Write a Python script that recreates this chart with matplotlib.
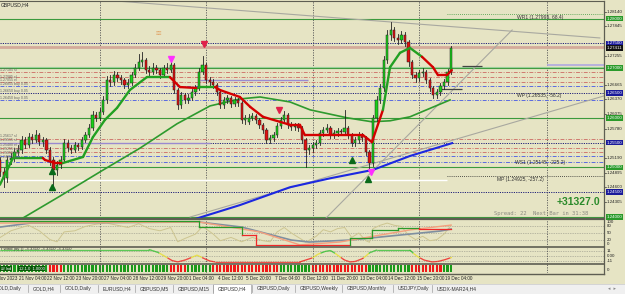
import matplotlib
matplotlib.use("Agg")
import matplotlib.pyplot as plt
import numpy as np
from matplotlib.patches import Rectangle

W, H = 625, 294
BG = "#e6e4c4"
FONT = "Liberation Sans"

# ---------------- data ----------------
bars = list(range(-5, 123))
opens = [1.2515, 1.2491, 1.2479, 1.2515, 1.2519, 1.2531, 1.2535, 1.2555, 1.2545, 1.2561,
         1.2555, 1.2565, 1.2551, 1.2555, 1.2535, 1.2515, 1.2495, 1.2505, 1.2515, 1.2549,
         1.2539, 1.2535, 1.2545, 1.2541, 1.2555, 1.2565, 1.2580, 1.2606, 1.2600, 1.2612,
         1.2636, 1.2676, 1.2672, 1.2686, 1.2680, 1.2676, 1.2666, 1.2670, 1.2686, 1.2700,
         1.2713, 1.2717, 1.2696, 1.2692, 1.2700, 1.2696, 1.2686, 1.2700, 1.2696, 1.2707,
         1.2656, 1.2626, 1.2646, 1.2636, 1.2640, 1.2652, 1.2660, 1.2692, 1.2707, 1.2676,
         1.2672, 1.2666, 1.2652, 1.2626, 1.2636, 1.2640, 1.2628, 1.2636, 1.2630, 1.2596,
         1.2592, 1.2600, 1.2604, 1.2596, 1.2586, 1.2575, 1.2555, 1.2559, 1.2565, 1.2584,
         1.2596, 1.2606, 1.2586, 1.2582, 1.2584, 1.2580, 1.2555, 1.2535, 1.2539, 1.2545,
         1.2549, 1.2569, 1.2575, 1.2580, 1.2565, 1.2569, 1.2573, 1.2571, 1.2580, 1.2565,
         1.2549, 1.2555, 1.2565, 1.2559, 1.2531, 1.2509, 1.2600, 1.2636, 1.2660, 1.2717,
         1.2767, 1.2777, 1.2761, 1.2757, 1.2767, 1.2753, 1.2713, 1.2686, 1.2680, 1.2690,
         1.2692, 1.2676, 1.2660, 1.2646, 1.2652, 1.2664, 1.2672, 1.2692]
closes = [1.2491, 1.2479, 1.2515, 1.2519, 1.2531, 1.2535, 1.2555, 1.2545, 1.2561, 1.2555,
          1.2565, 1.2551, 1.2555, 1.2535, 1.2515, 1.2495, 1.2505, 1.2515, 1.2549, 1.2539,
          1.2535, 1.2545, 1.2541, 1.2555, 1.2565, 1.2580, 1.2606, 1.2600, 1.2612, 1.2636,
          1.2676, 1.2672, 1.2686, 1.2680, 1.2676, 1.2666, 1.2670, 1.2686, 1.2700, 1.2713,
          1.2717, 1.2696, 1.2692, 1.2700, 1.2696, 1.2686, 1.2700, 1.2696, 1.2707, 1.2656,
          1.2626, 1.2646, 1.2636, 1.2640, 1.2652, 1.2660, 1.2692, 1.2707, 1.2676, 1.2672,
          1.2666, 1.2652, 1.2626, 1.2636, 1.2640, 1.2628, 1.2636, 1.2630, 1.2596, 1.2600,
          1.2600, 1.2604, 1.2596, 1.2586, 1.2575, 1.2555, 1.2559, 1.2565, 1.2584, 1.2596,
          1.2606, 1.2586, 1.2582, 1.2584, 1.2580, 1.2555, 1.2535, 1.2539, 1.2545, 1.2549,
          1.2569, 1.2575, 1.2580, 1.2565, 1.2569, 1.2573, 1.2571, 1.2580, 1.2565, 1.2549,
          1.2555, 1.2565, 1.2559, 1.2531, 1.2509, 1.2600, 1.2636, 1.2660, 1.2717, 1.2767,
          1.2777, 1.2761, 1.2757, 1.2767, 1.2753, 1.2713, 1.2686, 1.2680, 1.2690, 1.2692,
          1.2676, 1.2660, 1.2646, 1.2652, 1.2664, 1.2672, 1.2692, 1.2741]
highs = [1.2521, 1.2499, 1.2523, 1.2529, 1.2539, 1.2545, 1.2563, 1.2561, 1.2569, 1.2567,
         1.2575, 1.2569, 1.2561, 1.2559, 1.2541, 1.2521, 1.2513, 1.2523, 1.2557, 1.2555,
         1.2545, 1.2551, 1.2549, 1.2561, 1.2571, 1.2588, 1.2614, 1.2612, 1.2620, 1.2644,
         1.2684, 1.2686, 1.2694, 1.2692, 1.2686, 1.2680, 1.2678, 1.2692, 1.2708, 1.2729,
         1.2733, 1.2721, 1.2704, 1.2710, 1.2706, 1.2700, 1.2706, 1.2710, 1.2715, 1.2711,
         1.2660, 1.2652, 1.2650, 1.2648, 1.2658, 1.2666, 1.2700, 1.2725, 1.2711, 1.2682,
         1.2678, 1.2670, 1.2656, 1.2642, 1.2646, 1.2644, 1.2642, 1.2640, 1.2634, 1.2606,
         1.2608, 1.2610, 1.2608, 1.2600, 1.2590, 1.2579, 1.2565, 1.2571, 1.2590, 1.2602,
         1.2614, 1.2610, 1.2592, 1.2590, 1.2590, 1.2584, 1.2559, 1.2545, 1.2551, 1.2555,
         1.2575, 1.2581, 1.2588, 1.2584, 1.2575, 1.2579, 1.2577, 1.2616, 1.2584, 1.2569,
         1.2561, 1.2571, 1.2569, 1.2563, 1.2535, 1.2606, 1.2644, 1.2668, 1.2725, 1.2777,
         1.2793, 1.2783, 1.2769, 1.2775, 1.2773, 1.2757, 1.2717, 1.2692, 1.2696, 1.2700,
         1.2696, 1.2680, 1.2664, 1.2658, 1.2670, 1.2678, 1.2698, 1.2745]
lows = [1.2483, 1.2461, 1.2471, 1.2507, 1.2513, 1.2525, 1.2529, 1.2539, 1.2541, 1.2549,
        1.2551, 1.2545, 1.2543, 1.2529, 1.2505, 1.2459, 1.2485, 1.2499, 1.2511, 1.2533,
        1.2529, 1.2531, 1.2535, 1.2537, 1.2551, 1.2561, 1.2576, 1.2594, 1.2596, 1.2608,
        1.2630, 1.2664, 1.2666, 1.2674, 1.2668, 1.2660, 1.2660, 1.2666, 1.2682, 1.2696,
        1.2705, 1.2690, 1.2684, 1.2688, 1.2690, 1.2680, 1.2682, 1.2690, 1.2692, 1.2650,
        1.2618, 1.2620, 1.2630, 1.2630, 1.2636, 1.2646, 1.2656, 1.2688, 1.2670, 1.2664,
        1.2660, 1.2646, 1.2620, 1.2620, 1.2630, 1.2622, 1.2624, 1.2624, 1.2590, 1.2588,
        1.2588, 1.2596, 1.2590, 1.2580, 1.2569, 1.2549, 1.2549, 1.2553, 1.2561, 1.2580,
        1.2592, 1.2580, 1.2576, 1.2576, 1.2574, 1.2549, 1.2501, 1.2527, 1.2531, 1.2539,
        1.2545, 1.2563, 1.2571, 1.2559, 1.2559, 1.2563, 1.2565, 1.2565, 1.2559, 1.2543,
        1.2543, 1.2549, 1.2553, 1.2525, 1.2495, 1.2503, 1.2594, 1.2630, 1.2654, 1.2711,
        1.2757, 1.2755, 1.2749, 1.2751, 1.2745, 1.2705, 1.2680, 1.2672, 1.2674, 1.2684,
        1.2670, 1.2654, 1.2640, 1.2640, 1.2646, 1.2658, 1.2666, 1.2688]

# fast moving average (thick, green up / red down)
fast_bars = [-5.1, -1.4, 7.0, 7.6, 10.4, 12.7, 18.3, 21.1, 24.5, 27.9, 31.5, 36.3, 42.8,
             45.6, 50.7, 51.3, 55.5, 56.9, 62.5, 65.4, 69.0, 76.6, 79.4, 80.8, 97.2, 99.7,
             102.8, 104.8, 107.6, 110.4, 113.8, 116.9, 118.3, 120.8, 122.2]
fast_vals = [1.2465, 1.2519, 1.2519, 1.2515, 1.2509, 1.2509, 1.2521, 1.2561, 1.2596, 1.2620,
             1.2656, 1.2682, 1.2682, 1.2662, 1.2660, 1.2662, 1.2662, 1.2656, 1.2642, 1.2622,
             1.2602, 1.2586, 1.2586, 1.2565, 1.2565, 1.2551, 1.2616, 1.2702, 1.2731, 1.2741,
             1.2723, 1.2702, 1.2686, 1.2686, 1.2696]
fast_trend = "gggrrrggggggg" "rrggrrrrrrrrrr" "ggggrrrrg"

slow_bars = [1.4, 11.8, 23.1, 34.4, 44.8, 54.1, 62.5, 68.2, 76.6, 82.3, 92.7, 99.7, 104.8, 110.4, 121.7]
slow_vals = [1.2398, 1.2442, 1.2491, 1.2539, 1.2588, 1.2624, 1.2638, 1.2642, 1.2632, 1.2616,
             1.2600, 1.2592, 1.2594, 1.2602, 1.2636]

blue_bars = [49.9, 62.5, 76.6, 87.9, 100.0, 110.4, 122.3]
blue_vals = [1.2396, 1.2424, 1.2460, 1.2478, 1.2495, 1.2523, 1.2549]

# round-number levels
green_levels = [1.2800, 1.2700, 1.2600, 1.2500, 1.2400]
blue_levels = [1.2750, 1.2650, 1.2550, 1.2450]
bid_price = 1.27411
red_dashdot_levels = [1.2692, 1.2682, 1.2673, 1.2557, 1.2539, 1.2531]
blue_dashdot_levels = [1.2664, 1.2636, 1.2523, 1.2511]
axis_ticks = [1.28140, 1.27845, 1.27255, 1.26665, 1.26370, 1.26075, 1.25780,
              1.25190, 1.24895, 1.24600, 1.24305]

# trend lines (bar, price) pairs
trendlines = [((23.1, 1.2838), (163.9, 1.2761)),
              ((86.5, 1.2396), (139.2, 1.2777)),
              ((48.5, 1.2400), (165.0, 1.2644))]

arrow_bars = [43.0, 52.5, 73.5, 99.5, 9.5, 9.5, 94.0, 98.5]
arrow_prices = [1.2719, 1.2749, 1.2616, 1.2490, 1.2492, 1.2460, 1.2514, 1.2476]
arrow_kinds = ["pink", "red", "red", "pink", "green", "green", "green", "green"]

time_label_bars = [-8, 0, 8, 16, 24, 32, 40, 48, 56, 64, 72, 80, 88, 96, 104, 112, 120]
time_labels = ["20 Nov 2023", "21 Nov 04:00", "22 Nov 12:00", "23 Nov 20:00", "27 Nov 04:00",
               "28 Nov 12:00", "29 Nov 20:00", "1 Dec 04:00", "4 Dec 12:00", "5 Dec 20:00",
               "7 Dec 04:00", "8 Dec 12:00", "11 Dec 20:00", "13 Dec 04:00", "14 Dec 12:00",
               "15 Dec 20:00", "19 Dec 04:00"]
separator_bars = [23, 53, 83, 113, 149]

# oscillator panel (0..100)
osc_bars = [-5, -2, 0, 3, 6, 9, 11, 13, 16, 19, 22, 25, 28, 31, 34, 37, 40, 43, 45, 47, 50,
            52, 55, 57, 60, 63, 66, 69, 71, 73, 75, 77, 80, 81, 84, 86, 88, 90, 92, 94, 96,
            98, 99, 100, 102, 104, 106, 108, 110, 112, 114, 116, 118, 120, 122]
osc_vals = [30, 60, 70, 85, 60, 20, 10, 55, 60, 80, 90, 95, 85, 75, 92, 70, 60, 75, 10, 25,
            45, 80, 45, 15, 30, 10, 30, 15, 10, 55, 75, 50, 20, 8, 35, 65, 55, 70, 75, 30, 50,
            15, 8, 70, 85, 95, 85, 80, 40, 20, 35, 15, 20, 45, 85]
gb_bars = [-5, 3.4, 51, 63, 77, 82, 93.5, 119, 122]
gb_vals = [77, 95, 100, 77, 18, 9, 18, 59, 68]
sal_bars = [-5, 51, 68, 79.4, 90.7, 110.4, 122]
sal_vals = [95, 100, 55, -4, 9, 64, 86]
stp_bars = [-5, 51, 51, 63, 63, 67, 67, 93.5, 93.5, 99.7, 99.7, 107, 107, 113, 113, 122]
stp_vals = [104, 104, 77, 77, 40, 40, -4, -4, 27, 27, 64, 64, 73, 73, 70, 70]
stp_trend = "gggggrrrggggggrr"

# wind jay panel
wj_bars = [-5, 37, 39.4, 41, 43.4, 45, 47, 49, 50.4, 52, 54, 55.5, 79.4, 81, 83, 84.5, 86.5,
           88, 89.3, 90.7, 92, 93.5, 95, 97, 98, 99, 101, 110.4, 111.5, 112.7, 114.4, 116.6,
           118.3, 120.3, 122.2]
wj_vals = [14, 14, 8, 1, -10, -13, -9, -3, 2, -4, -11, -13, -13, -9, -4, 4, 10, 12, 6, -2,
           -9, -13, -12, -6, 0, 7, 13, 13, 5, -2, -9, -13, -12, -8, -3]

# signal bars (run-lengths)
sig_colors = ["g", "r", "g", "r", "g", "r", "g", "r", "g", "r", "g"]
sig_lengths = [14, 4, 30, 5, 7, 19, 9, 16, 12, 9, 3]

tabs = ["GOLD,Daily", "GOLD,H4", "GOLD,Daily", "EURUSD,H4", "GBPUSD,M5", "GBPUSD,M15",
        "GBPUSD,H4", "GBPUSD,Daily", "GBPUSD,Weekly", "GBPUSD,Monthly", "USDJPY,Daily",
        "USDX-MAR24,H4"]
active_tab = "GBPUSD,H4"

# ---------------- layout helpers ----------------
fig = plt.figure(figsize=(W / 100, H / 100), dpi=100)
fig.patch.set_facecolor(BG)


def px_axes(x0, y0, x1, y1):
    a = fig.add_axes([x0 / W, 1 - y1 / H, (x1 - x0) / W, (y1 - y0) / H])
    a.set_facecolor(BG)
    for s in a.spines.values():
        s.set_visible(False)
    a.set_xticks([])
    a.set_yticks([])
    return a


def px(x, y):
    return x / W, 1 - y / H


XL = (-5.07, 165.07)   # bar index range of the 604px chart width
XR = 604
PXB = XR / (XL[1] - XL[0])

ax = px_axes(0, 1, XR, 218)
ax.set_xlim(*XL)
ax.set_ylim(1.23980, 1.28355)

for b in separator_bars:
    ax.axvline(b, color="#555555", lw=0.6, ls=(0, (1.5, 1.5)), zorder=1)

# horizontal levels
for lv in green_levels:
    ax.axhline(lv, color="#3c9a3c", lw=0.8, zorder=2)
for lv in blue_levels:
    ax.axhline(lv, color="#20207a", lw=0.7, ls=(0, (1.2, 1.2)), zorder=2)
for lv in red_dashdot_levels:
    ax.axhline(lv, color="#d07a70", lw=0.7, ls=(0, (4, 1.5, 1, 1.5)), zorder=2)
for lv in blue_dashdot_levels:
    ax.axhline(lv, color="#5a6ae0", lw=0.7, ls=(0, (4, 1.5, 1, 1.5)), zorder=2)
ax.axhline(1.2743, color="#d4aa9a", lw=2.0, zorder=2)
ax.axhline(1.2702, color="#9ad09a", lw=0.8, zorder=2)
ax.hlines(1.2809, 120.8, XL[1], color="#3c9a3c", lw=0.6, ls=(0, (1, 1.5)), zorder=2)
ax.hlines(1.2483, 120.8, XL[1], color="#222222", lw=0.6, ls=(0, (1, 1.5)), zorder=2)
ax.hlines(1.2474, XL[0], 120.8, color="#ffffff", lw=1.0, zorder=2)
ax.hlines(1.2676, 51.3, 81.7, color="#9a8ad0", lw=1.0, zorder=2)
ax.hlines(1.2549, XL[0], 54.1, color="#9a8ad0", lw=1.0, zorder=2)
ax.hlines(1.2707, 149, XL[1], color="#b0a8e0", lw=1.2, zorder=2)
ax.hlines(1.2705, 125, 130.6, color="#444444", lw=0.9, zorder=3)
ax.hlines(1.2658, 118.9, 125.1, color="#444444", lw=0.9, zorder=3)

for (b0, p0), (b1, p1) in trendlines:
    ax.plot([b0, b1], [p0, p1], color="#a8a8a0", lw=0.8, zorder=2)

# moving averages
ax.plot(slow_bars, slow_vals, color="#2e9a2e", lw=1.2, zorder=4)
ax.plot(blue_bars, blue_vals, color="#1c28e0", lw=1.5, zorder=4)

# candles
for b, o, h, l, c in zip(bars, opens, highs, lows, closes):
    ax.plot([b, b], [l, h], color="#222222", lw=0.6, zorder=5)
    col = "#18d018" if c >= o else "#e01010"
    lo, hi = min(o, c), max(o, c)
    if hi - lo < 0.00005:
        hi = lo + 0.00005
    ax.add_patch(Rectangle((b - 0.32, lo), 0.64, hi - lo, facecolor=col,
                           edgecolor="#202020", lw=0.35, zorder=6))

for i in range(1, len(fast_bars)):
    col = "#22a022" if fast_trend[i] == "g" else "#d40000"
    ax.plot(fast_bars[i - 1:i + 1], fast_vals[i - 1:i + 1], color=col, lw=1.7,
            solid_capstyle="round", zorder=7)

# arrows
for b, p, k in zip(arrow_bars, arrow_prices, arrow_kinds):
    if k == "pink":
        ax.plot(b, p, marker="v", ms=4.5, color="#ff30ff", zorder=8)
    elif k == "red":
        ax.plot(b, p, marker="v", ms=5, color="#e0204a", zorder=8)
    else:
        ax.plot(b, p, marker="^", ms=5, color="#0a6a1a", zorder=8)

# price axis labels (right side)
ytr = ax.get_yaxis_transform()
AXF = dict(fontsize=3.2, va="center", ha="left", family=FONT, clip_on=False)
for t in axis_ticks:
    ax.text(1.005, t, f"{t:.5f}", transform=ytr, color="#222222", **AXF)
    ax.plot([1.0, 1.003], [t, t], transform=ytr, color="#333333", lw=0.5, clip_on=False)
for lv in green_levels:
    ax.text(1.004, lv, f"{lv:.5f}", transform=ytr, color="white", zorder=10,
            bbox=dict(boxstyle="square,pad=0.2", fc="#2a9a2a", ec="none"), **AXF)
for lv in blue_levels:
    ax.text(1.004, lv, f"{lv:.5f}", transform=ytr, color="white", zorder=10,
            bbox=dict(boxstyle="square,pad=0.2", fc="#1a1a9a", ec="none"), **AXF)
ax.text(1.004, bid_price, f"{bid_price:.5f}", transform=ytr, color="white", zorder=10,
        bbox=dict(boxstyle="square,pad=0.2", fc="#111111", ec="none"), **AXF)


def ftext(x, y, s, **kw):
    fam = kw.pop("family", FONT)
    fig.text(*px(x, y), s, va="center", ha="left", family=fam, **kw)


ftext(1, 5, "GBPUSD,H4", fontsize=3.6, color="#222222")
ftext(517, 18, "WR1 (1.27995, 68.4)", fontsize=3.6, color="#333333")
ftext(517, 95, "WP (1.26535, -58.2)", fontsize=3.6, color="#333333")
ftext(515, 163, "WS1 (1.25145, -225.2)", fontsize=3.6, color="#333333")
ftext(497, 180, "MP (1.24925, -257.2)", fontsize=3.6, color="#333333")
ftext(557, 202, "+31327.0", fontsize=7.5, color="#2a8a2a", fontweight="bold")
ftext(494, 214, "Spread: 22  Next Bar in 31:38", fontsize=4.0, color="#8a8a80",
      family="DejaVu Sans Mono")
ftext(156, 34, "\u2261\u2261", fontsize=4, color="#e0a060")
left_labels = [(70, "1.27185 sl"), (77, "1.27085 sl"), (80, "1.27055 el"),
               (84, "1.26855 buy 0.05"), (91, "1.26650 buy 0.05"), (98, "1.26450 buy 0.05"),
               (136, "1.25617 sl"), (140, "1.25515 sl"), (145, "1.25480 el"),
               (149, "1.25255 buy"), (153, "1.25055 buy"), (157, "1.24855 buy")]
for yy, s in left_labels:
    ftext(0, yy, s, fontsize=2.6, color="#666666")

# ---------------- oscillator panel ----------------
ax2 = px_axes(0, 219, XR, 247)
ax2.set_xlim(*XL)
ax2.set_ylim(-13.6, 113.6)
for lv in (80, 50, 20):
    ax2.axhline(lv, color="#8a8a80", lw=0.5, ls=(0, (1, 1.5)))
for b in separator_bars:
    ax2.axvline(b, color="#555555", lw=0.6, ls=(0, (1.5, 1.5)))
ax2.plot(osc_bars, osc_vals, color="#cdc590", lw=0.7)
ax2.plot(gb_bars, gb_vals, color="#7f8fa0", lw=1.2)
ax2.plot(sal_bars, sal_vals, color="#f4a07e", lw=1.0)
for i in range(1, len(stp_bars)):
    col = "#2a9a2a" if stp_trend[i] == "g" else "#f02828"
    ax2.plot(stp_bars[i - 1:i + 1], stp_vals[i - 1:i + 1], color=col, lw=0.9)
y2 = ax2.get_yaxis_transform()
for v, s in [(100, "100"), (80, "80"), (50, "50"), (20, "20"), (0, "0")]:
    ax2.text(1.005, v, s, transform=y2, color="#222222", **AXF)

# ---------------- wind jay panel ----------------
ax3 = px_axes(0, 247, XR, 264)
ax3.set_xlim(*XL)
ax3.set_ylim(-17.6, 19.8)
for lv in (11, 0, -11):
    ax3.axhline(lv, color="#8a8a80", lw=0.5, ls=(0, (1, 1.5)))
for b in separator_bars:
    ax3.axvline(b, color="#555555", lw=0.6, ls=(0, (1.5, 1.5)))
dense_b = np.linspace(wj_bars[0], wj_bars[-1], 600)
dense_v = np.interp(dense_b, wj_bars, wj_vals)
for i in range(1, len(dense_b)):
    v = 0.5 * (dense_v[i] + dense_v[i - 1])
    col = "#30c030" if v >= 6 else ("#e8e030" if v > -4 else "#f02020")
    ax3.plot(dense_b[i - 1:i + 1], dense_v[i - 1:i + 1], color=col, lw=0.9,
             solid_capstyle="butt")
y3 = ax3.get_yaxis_transform()
for v, s in [(11, "11"), (0, "0.00"), (-11, "-11")]:
    ax3.text(1.005, v, s, transform=y3, color="#222222", **AXF)
ax3.text(0.002, 14.5, "r wind jay () -3.3310 -3.3310 -3.3310", transform=y3,
         fontsize=3.2, color="#333333", va="center", ha="left", family=FONT)

# ---------------- signal bar panel ----------------
ax4 = px_axes(0, 264, XR, 273)
ax4.set_xlim(*XL)
ax4.set_ylim(0, 1)
bcur = bars[0]
for c, n in zip(sig_colors, sig_lengths):
    for k in range(n):
        ax4.add_patch(Rectangle((bcur - 0.3, 0.12), 0.6, 0.78,
                                facecolor="#1a9a1a" if c == "g" else "#f01818",
                                edgecolor="none"))
        bcur += 1
for b in separator_bars:
    ax4.axvline(b, color="#555555", lw=0.6, ls=(0, (1.5, 1.5)))
ax4.text(-4.8, 0.5, "\u2261f Ind", fontsize=3.0, color="white", va="center", ha="left",
         family=FONT, bbox=dict(boxstyle="square,pad=0.2", fc="#0b5a0b", ec="none"))
ax4.text(0.2, 0.5, "12.1.0  1.0000", fontsize=3.0, color="white", va="center", ha="left",
         family=FONT, bbox=dict(boxstyle="square,pad=0.2", fc="#0b5a0b", ec="none"))
y4 = ax4.get_yaxis_transform()
ax4.text(1.005, 0.3, "0", transform=y4, color="#222222", **AXF)

# separators / frame
for yy, lw in [(1, 0.8), (218.5, 1.6), (247, 1.2), (264, 1.2), (273.5, 1.0)]:
    fig.add_artist(plt.Line2D([0, XR / W], [1 - yy / H] * 2, color="#5e5e52", lw=lw))
fig.add_artist(plt.Line2D([XR / W] * 2, [1 - 1 / H, 1 - 273.5 / H], color="#5e5e52", lw=0.9))

# time labels
for b, s in zip(time_label_bars, time_labels):
    xpx = (b - XL[0]) * PXB
    ftext(xpx + 1, 278.5, s, fontsize=3.3, color="#222222")

# tab bar
fig.add_artist(Rectangle((0, 0), 1, 10.5 / H, transform=fig.transFigure,
                         facecolor="#f0f0f0", edgecolor="none"))
fig.add_artist(plt.Line2D([0, 1], [10.5 / H] * 2, color="#c8c8c8", lw=0.5))
tab_x = [-5, 33, 65, 103, 140, 178, 218, 257, 300, 347, 398, 437]
for x0, name in zip(tab_x, tabs):
    if name == active_tab:
        fig.add_artist(Rectangle(px(x0 - 5, 294), 38 / W, 10.5 / H, transform=fig.transFigure,
                                 facecolor="white", edgecolor="#a0a0a0", lw=0.5))
    ftext(x0, 288.5, name, fontsize=3.6, color="#333333")
    fig.add_artist(plt.Line2D([(x0 - 5) / W] * 2, [1 - 292 / H, 1 - 285 / H],
                              color="#a0a0a0", lw=0.5))
ftext(608, 288.5, "\u25c2  \u25b8", fontsize=3.5, color="#888888", family="DejaVu Sans")

fig.savefig("out.png", dpi=100, facecolor=BG)
